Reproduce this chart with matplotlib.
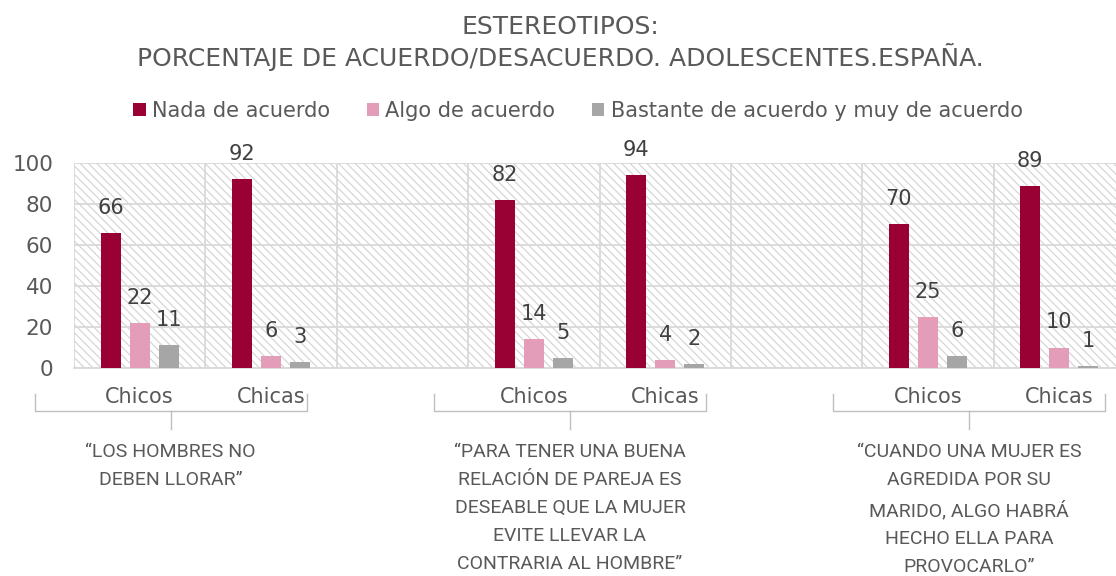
import numpy as np
import matplotlib
matplotlib.use("Agg")
import matplotlib.pyplot as plt
from matplotlib.patches import Patch
from matplotlib.transforms import blended_transform_factory

# ---------------- data ----------------
categories = ["Chicos", "Chicas", "", "Chicos", "Chicas", "", "Chicos", "Chicas"]
series_names = ["Nada de acuerdo", "Algo de acuerdo", "Bastante de acuerdo y muy de acuerdo"]
nada = [66, 92, np.nan, 82, 94, np.nan, 70, 89]
algo = [22, 6, np.nan, 14, 4, np.nan, 25, 10]
bastante = [11, 3, np.nan, 5, 2, np.nan, 6, 1]
group_starts = [0, 3, 6]
statements = [
    "\u201cLOS HOMBRES NO\nDEBEN LLORAR\u201d",
    "\u201cPARA TENER UNA BUENA\nRELACI\u00d3N DE PAREJA ES\nDESEABLE QUE LA MUJER\nEVITE LLEVAR LA\nCONTRARIA AL HOMBRE\u201d",
    "\u201cCUANDO UNA MUJER ES\nAGREDIDA POR SU\nMARIDO, ALGO HABR\u00c1\nHECHO ELLA PARA\nPROVOCARLO\u201d",
]
title = "ESTEREOTIPOS:\nPORCENTAJE DE ACUERDO/DESACUERDO. ADOLESCENTES.ESPA\u00d1A."
yticks = [0, 20, 40, 60, 80, 100]

# ---------------- style ----------------
colors = ["#990033", "#E39DB8", "#A6A6A6"]
txt = "#595959"
grid_c = "#D9D9D9"
plt.rcParams["font.family"] = ["DejaVu Sans"]
plt.rcParams["hatch.color"] = "#D2D2D2"
plt.rcParams["hatch.linewidth"] = 0.8

W, H = 1116, 576
fig = plt.figure(figsize=(W / 100, H / 100), dpi=100)
ax = fig.add_axes([74 / W, 1 - 368 / H, (1125 - 74) / W, 205 / H])

ax.patch.set_facecolor("white")
ax.patch.set_hatch("\\\\\\\\")
ax.patch.set_edgecolor("#D2D2D2")
ax.patch.set_linewidth(0)

x = np.arange(len(categories))
bw = 0.152
off = 0.221
for i, (vals, c, name) in enumerate(zip([nada, algo, bastante], colors, series_names)):
    pos = x + (i - 1) * off
    ax.bar(pos, vals, width=bw, color=c, zorder=3, label=name)
    for xp, v in zip(pos, vals):
        if not np.isnan(v):
            ax.annotate(f"{v:g}", (xp, v), xytext=(0, 18), textcoords="offset points",
                        ha="center", va="center", fontsize=15, color="#404040", zorder=4)

ax.set_xlim(-0.5, len(categories) - 0.5)
ax.set_ylim(0, 100)
ax.set_yticks(yticks)
ax.set_yticklabels([str(t) for t in yticks], fontsize=15.5, color=txt)
ax.set_xticks(x)
ax.set_xticklabels(categories, fontsize=15, color=txt)
ax.set_xticks(np.arange(-0.5, len(categories), 1.0), minor=True)
ax.tick_params(axis="both", which="both", length=0)
ax.tick_params(axis="y", pad=15)
ax.tick_params(axis="x", pad=14)
ax.grid(axis="y", which="major", color=grid_c, linewidth=1.3, zorder=1)
ax.grid(axis="x", which="minor", color=grid_c, linewidth=1.3, zorder=1)
ax.grid(axis="x", which="major", visible=False)
ax.set_axisbelow(True)
for s in ax.spines.values():
    s.set_visible(False)
ax.axhline(0, color=grid_c, linewidth=1.3, zorder=2, clip_on=False)

# brackets & statements
tr = blended_transform_factory(ax.transData, fig.transFigure)
y_top = 1 - 394 / H
y_mid = 1 - 411 / H
y_bot = 1 - 429 / H
for g, (start, stmt) in enumerate(zip(group_starts, statements)):
    left = start - 0.8 + 0.04 * g
    right = left + 2.07
    cen = (left + right) / 2
    ax.plot([left, left, right, right], [y_top, y_mid, y_mid, y_top], color="#BFBFBF",
            linewidth=1.0, transform=tr, clip_on=False)
    ax.plot([cen, cen], [y_mid, y_bot], color="#BFBFBF", linewidth=1.0,
            transform=tr, clip_on=False)
    ax.text(cen, 1 - 443 / H, stmt, transform=tr, ha="center", va="top",
            fontsize=14, color=txt, family=["Roboto", "DejaVu Sans"], linespacing=1.72,
            multialignment="center")

# title
fig.text(560 / W, 1 - 15 / H, title, ha="center", va="top", fontsize=18,
         color=txt, linespacing=1.18)

# legend
handles = [Patch(facecolor=c, edgecolor="none", label=n) for c, n in zip(colors, series_names)]
fig.legend(handles=handles, loc="center", bbox_to_anchor=(578 / W, 1 - 111 / H), ncol=3,
           frameon=False, fontsize=15, handlelength=0.6, handleheight=0.6,
           handletextpad=0.3, columnspacing=1.75, labelcolor=txt)

fig.savefig("out.png", dpi=100)
